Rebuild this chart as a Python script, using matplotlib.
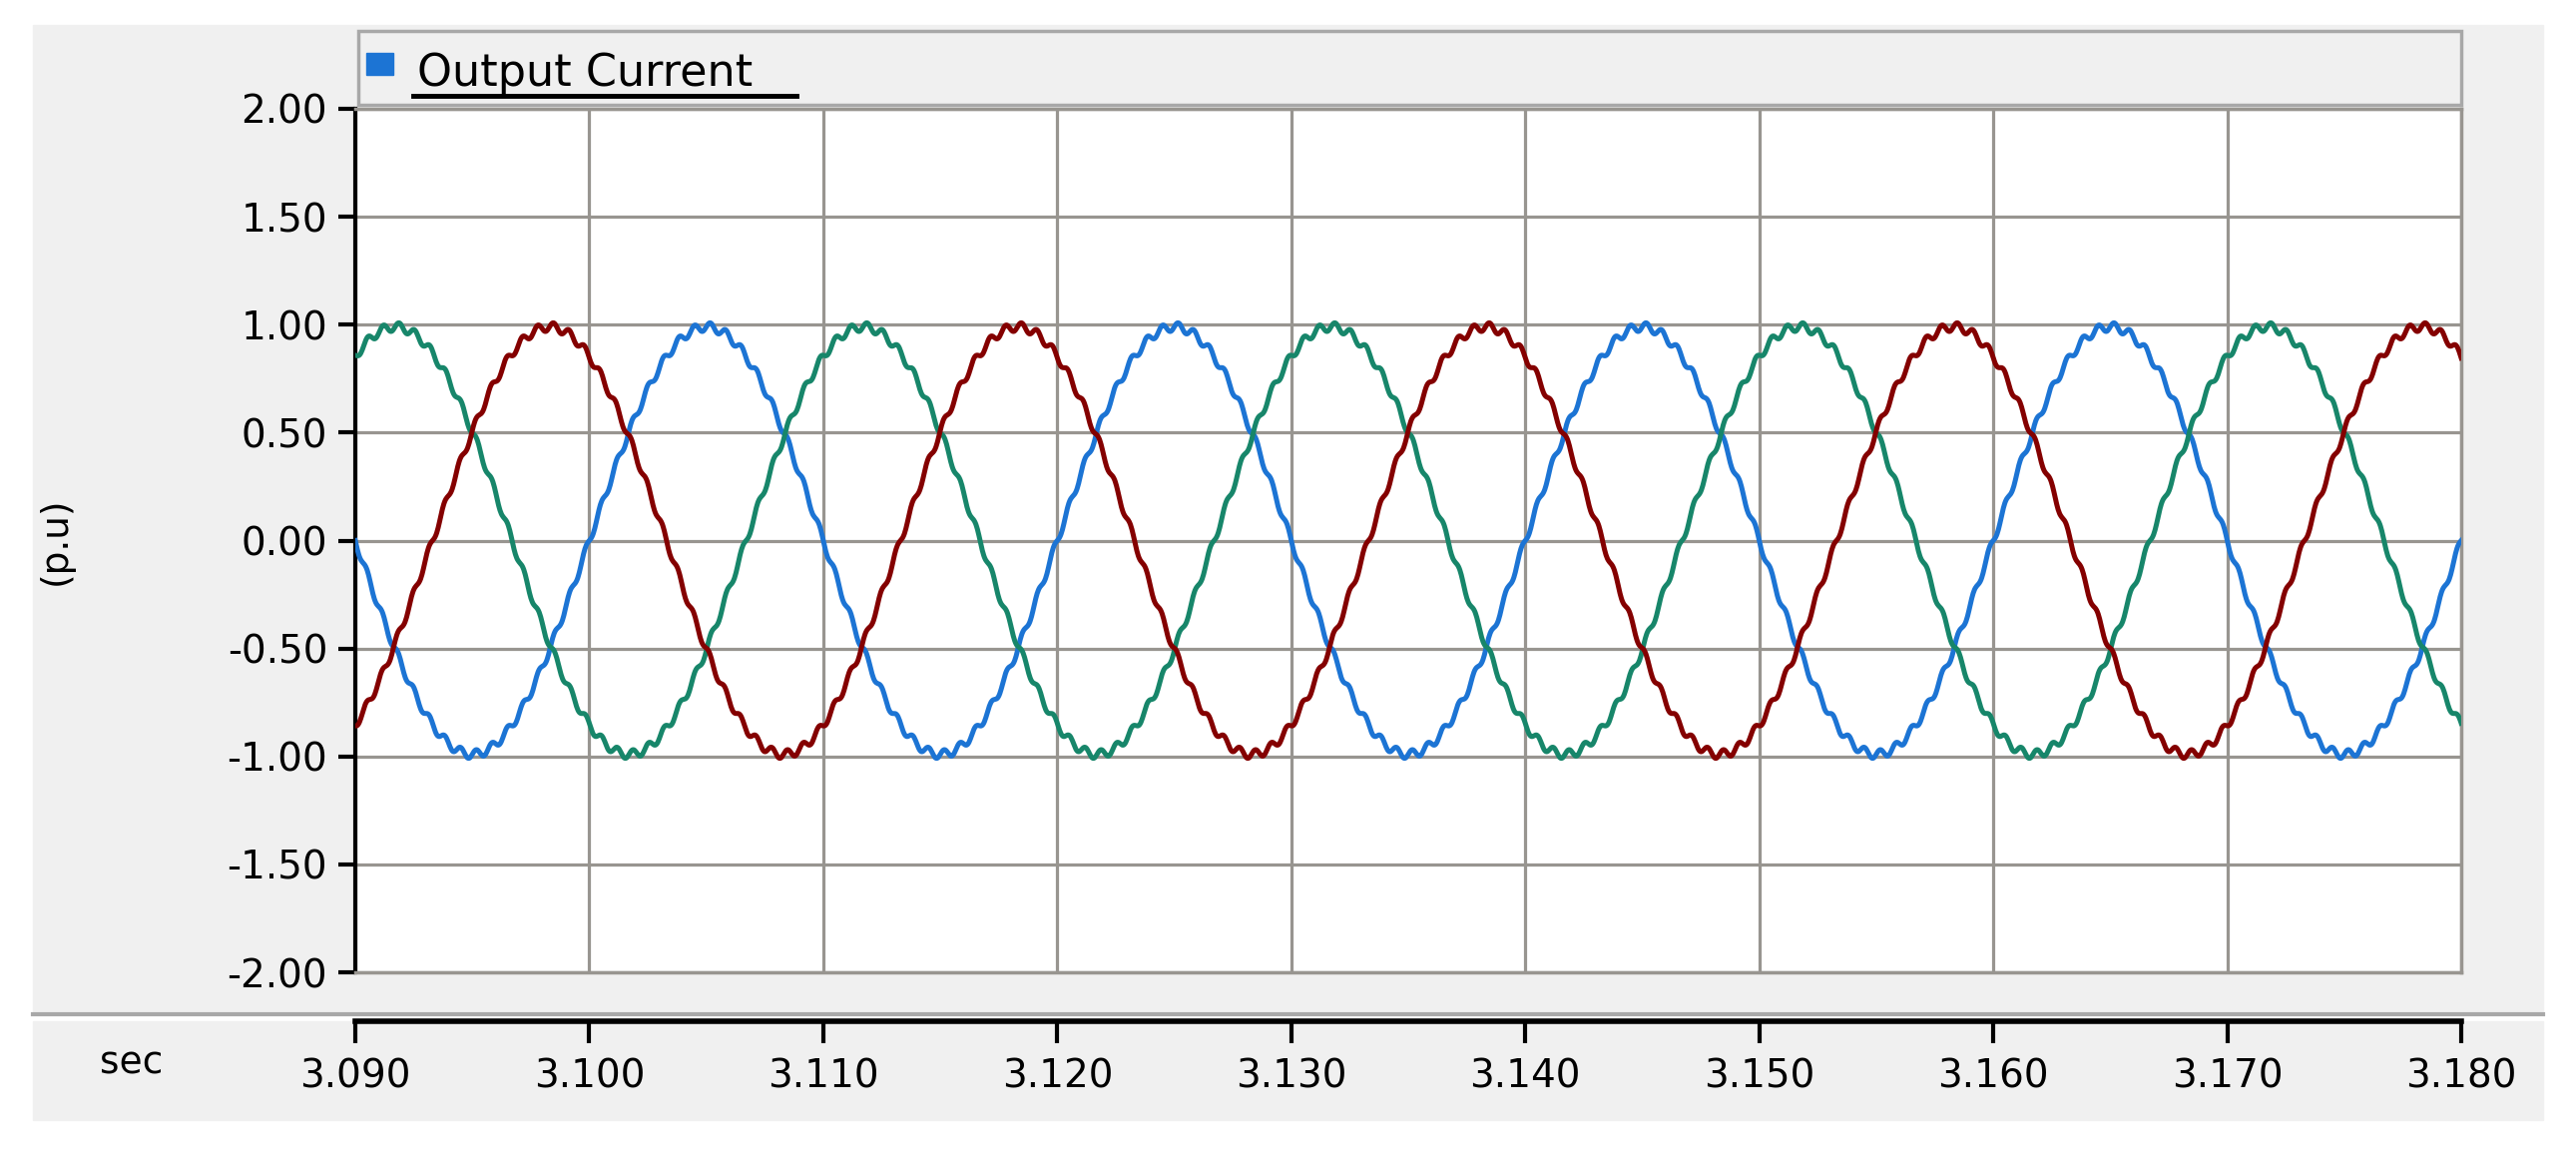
import numpy as np
import matplotlib
matplotlib.use("Agg")
import matplotlib.pyplot as plt
from matplotlib.patches import Rectangle
from matplotlib.lines import Line2D

# data
t_start, t_end = 3.090, 3.180
freq_hz = 50.0
amplitude = 0.99
phase_names = ["A", "B", "C"]
peak_times = [3.105, 3.1117, 3.0983]      # time of a positive peak of each phase
phase_colors = ["#1c74d4", "#17866a", "#840000"]
ripple_amp = 0.02
ripple_freq_hz = 1500.0
x_ticks = [3.090, 3.100, 3.110, 3.120, 3.130, 3.140, 3.150, 3.160, 3.170, 3.180]
y_ticks = [2.0, 1.5, 1.0, 0.5, 0.0, -0.5, -1.0, -1.5, -2.0]

W, H = 2581, 1157
fig = plt.figure(figsize=(W/100, H/100), dpi=100)
def fx(p): return p / W
def fy(p): return 1 - p / H

# gray panels
fig.patches.append(Rectangle((fx(33), fy(1015)), fx(2548-33), (1015-25)/H, transform=fig.transFigure, color="#f0f0f0", zorder=-10))
fig.patches.append(Rectangle((fx(33), fy(1122)), fx(2548-33), (1122-1023)/H, transform=fig.transFigure, color="#f0f0f0", zorder=-10))
fig.lines.append(Line2D([fx(33), fx(2548)], [fy(1016), fy(1016)], transform=fig.transFigure, color="#a8a8a8", lw=3, zorder=-9))
# legend band
fig.patches.append(Rectangle((fx(359), fy(105)), fx(2466-359), (105-31)/H, transform=fig.transFigure, facecolor="#f0f0f0", edgecolor="#a8a8a8", lw=2.5, zorder=-8))

L, R, T, B = 356, 2466, 109, 974
ax = fig.add_axes([fx(L), fy(B), fx(R-L), (B-T)/H])
ax.set_zorder(2)
t = np.linspace(t_start, t_end, 3000)
for name, tp, c in zip(phase_names, peak_times, phase_colors):
    y = amplitude*np.cos(2*np.pi*freq_hz*(t-tp)) + ripple_amp*np.sin(2*np.pi*ripple_freq_hz*(t-tp))
    ax.plot(t, y, color=c, lw=3.6, zorder=3)
ax.set_xlim(t_start, t_end)
ax.set_ylim(-2, 2)
ax.set_xticks(x_ticks)
ax.set_yticks(y_ticks)
ax.set_yticklabels([f"{v:.2f}" for v in y_ticks], fontsize=28)
ax.tick_params(axis="x", bottom=False, labelbottom=False)
ax.tick_params(axis="y", length=12, width=3, color="black", pad=8)
ax.grid(True, color="#989590", lw=2.3)
for s in ["top", "right", "bottom"]:
    ax.spines[s].set_color("#989590"); ax.spines[s].set_linewidth(2.5)
ax.spines["left"].set_color("black"); ax.spines["left"].set_linewidth(3)
ax.set_ylabel("(p.u)", fontsize=27)
ax.yaxis.set_label_coords((74-L)/(R-L), 0.5)

# separate x axis
ax2 = fig.add_axes([fx(L), fy(1023), fx(R-L), 0.0005])
ax2.set_zorder(2)
ax2.set_xlim(t_start, t_end)
ax2.set_xticks(x_ticks)
ax2.set_xticklabels([f"{v:.3f}" for v in x_ticks], fontsize=28)
ax2.set_yticks([])
ax2.patch.set_alpha(0)
for s in ["top", "right", "left"]:
    ax2.spines[s].set_visible(False)
ax2.spines["bottom"].set_color("black"); ax2.spines["bottom"].set_linewidth(4)
ax2.tick_params(axis="x", length=16, width=3, pad=10)
fig.text(fx(132), fy(1065), "sec", fontsize=27, ha="center", va="center")

# legend
fig.patches.append(Rectangle((fx(367), fy(75)), fx(27), 22/H, transform=fig.transFigure, color="#1c74d4", zorder=3))
fig.text(fx(418), fy(86), "Output Current", fontsize=32, ha="left", va="baseline", zorder=4)
fig.lines.append(Line2D([fx(414), fx(798)], [fy(96), fy(96)], transform=fig.transFigure, color="black", lw=3.5, zorder=4))

fig.savefig("out.png", dpi=100)
